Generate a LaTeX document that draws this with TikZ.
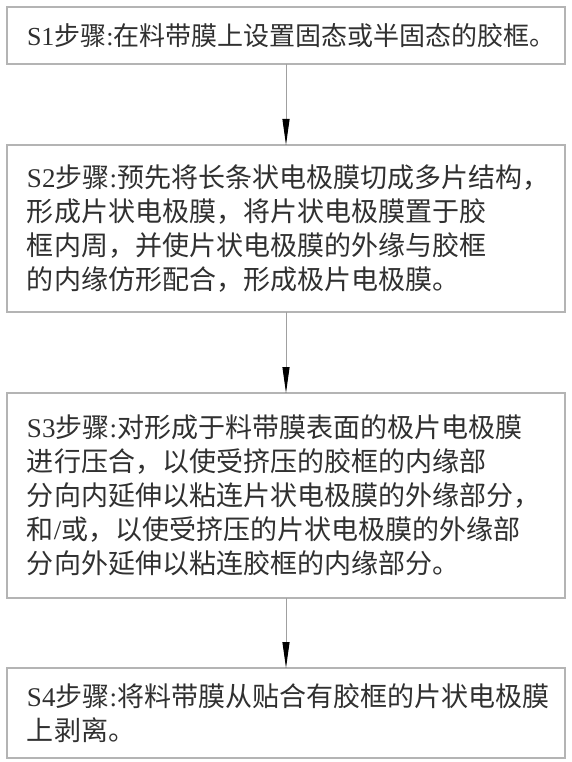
\documentclass[tikz,border=0pt]{standalone}
\usepackage{fontspec}
\setmainfont{Noto Sans CJK SC}
\newfontfamily\lat{Liberation Serif}
\usetikzlibrary{arrows.meta}
\definecolor{boxgray}{HTML}{B4B4B4}
\definecolor{linegray}{HTML}{A0A0A0}
\definecolor{txt}{HTML}{303030}
\begin{document}
\begin{tikzpicture}[x=1pt,y=-1pt,
  stepbox/.style={draw=boxgray, line width=1.3pt, anchor=north west, outer sep=0pt,
    minimum width=558pt, inner xsep=20pt, inner ysep=0pt, text width=518pt,
    align=left, text=txt, font=\fontsize{27}{34}\selectfont},
  flow/.style={draw=linegray, line width=1pt, -{Triangle[length=26pt,width=7pt,color=black]}}]
\useasboundingbox[fill=white] (0,0) rectangle (572,762);
\node[stepbox, minimum height=57pt, inner xsep=10pt, text width=538pt,
      font=\fontsize{26}{34}\selectfont] (s1) at (7,7)
  {\hspace*{10pt}{\lat S1}步骤{\lat :}在料带膜上设置固态或半固态的胶框。};
\node[stepbox, minimum height=167pt] (s2) at (7,145)
  {{\lat S2}步骤{\lat :}预先将长条状电极膜切成多片结构，\\
   形成片状电极膜，将片状电极膜置于胶\\
   框内周，并使片状电极膜的外缘与胶框\\
   的内缘仿形配合，形成极片电极膜。};
\node[stepbox, minimum height=205pt] (s3) at (7,393)
  {{\lat S3}步骤{\lat :}对形成于料带膜表面的极片电极膜\\
   进行压合，以使受挤压的胶框的内缘部\\
   分向内延伸以粘连片状电极膜的外缘部分，\\
   和{\lat /}或，以使受挤压的片状电极膜的外缘部\\
   分向外延伸以粘连胶框的内缘部分。};
\node[stepbox, minimum height=90pt] (s4) at (7,668)
  {{\lat S4}步骤{\lat :}将料带膜从贴合有胶框的片状电极膜\\
   上剥离。};
\draw[flow] (s1) -- (s2);
\draw[flow] (s2) -- (s3);
\draw[flow] (s3) -- (s4);
\end{tikzpicture}
\end{document}
